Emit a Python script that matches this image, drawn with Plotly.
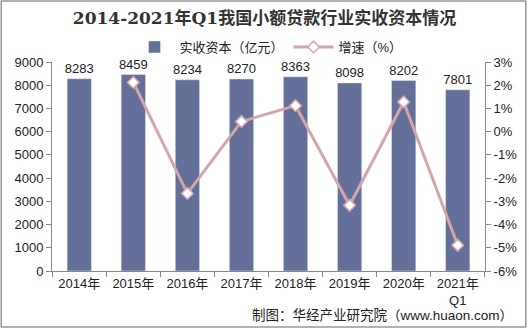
import plotly.graph_objects as go

categories = ["2014年", "2015年", "2016年", "2017年", "2018年", "2019年", "2020年", "2021年<br>Q1"]
capital = [8283, 8459, 8234, 8270, 8363, 8098, 8202, 7801]
growth = [None, 2.12, -2.66, 0.44, 1.12, -3.17, 1.28, -4.89]
left_ticks = [0, 1000, 2000, 3000, 4000, 5000, 6000, 7000, 8000, 9000]
right_ticks = [3, 2, 1, 0, -1, -2, -3, -4, -5, -6]

W, H = 529, 328
ml, mr, mt, mb = 52, 42, 62, 57
pw, ph = W - ml - mr, H - mt - mb

font_sans = "Liberation Sans, Arial, Noto Sans CJK SC, sans-serif"

fig = go.Figure()
fig.add_trace(go.Bar(
    x=categories, y=capital, name="实收资本（亿元）",
    marker=dict(color="#65709A"), width=0.45,
    text=[str(v) for v in capital], textposition="outside", constraintext="none",
    textfont=dict(size=13, color="#222222", family=font_sans),
    cliponaxis=False,
))
fig.add_trace(go.Scatter(
    x=categories, y=growth, name="增速（%）", yaxis="y2",
    mode="lines+markers",
    line=dict(color="#D2A6AA", width=3),
    marker=dict(symbol="diamond", size=9, color="white", line=dict(color="#D2A6AA", width=1.5)),
    connectgaps=False,
))

fig.update_layout(
    width=W, height=H,
    margin=dict(l=ml, r=mr, t=mt, b=mb),
    paper_bgcolor="white", plot_bgcolor="white",
    font=dict(family=font_sans, size=13, color="#222222"),
    title=dict(
        text="<b>2014-2021年Q1我国小额贷款行业实收资本情况</b>",
        x=0.5, xanchor="center", y=1 - 18 / H, yanchor="middle",
        font=dict(family="DejaVu Serif, Noto Sans CJK SC, serif", size=17, color="#333333"),
    ),
    legend=dict(
        orientation="h", x=0.5, xanchor="center", y=1 + 15 / ph, yanchor="middle",
        font=dict(size=13, color="#222222"), itemwidth=40, tracegroupgap=0,
        bgcolor="rgba(0,0,0,0)",
    ),
    xaxis=dict(
        type="category", showline=True, linecolor="#888888", linewidth=1,
        ticks="outside", tickson="boundaries", ticklen=5, tickcolor="#888888",
        tickfont=dict(size=13, color="#222222"), showgrid=False,
    ),
    yaxis=dict(
        range=[0, 9000], tickvals=left_ticks, showline=True, linecolor="#888888",
        ticks="outside", ticklen=5, tickcolor="#888888", showgrid=False, zeroline=False,
        tickfont=dict(size=13, color="#222222"),
    ),
    yaxis2=dict(
        overlaying="y", side="right", range=[-6, 3], tickvals=right_ticks,
        ticktext=[f"{v}%" for v in right_ticks], showline=True, linecolor="#888888",
        ticks="outside", ticklen=5, tickcolor="#888888", showgrid=False, zeroline=False,
        tickfont=dict(size=13, color="#222222"),
    ),
    shapes=[dict(
        type="rect", xref="paper", yref="paper",
        x0=(-ml + 1) / pw, x1=1 + (mr - 1) / pw, y0=(-mb + 1) / ph, y1=1 + (mt - 1) / ph,
        line=dict(color="#999999", width=1.5), fillcolor="rgba(0,0,0,0)", layer="below",
    )],
    annotations=[dict(
        text="制图：华经产业研究院（www.huaon.com）", xref="paper", yref="paper",
        x=1 + 30 / pw, xanchor="right", y=-(315 - mt - ph) / ph, yanchor="middle",
        showarrow=False, font=dict(size=13.5, color="#222222"),
    )],
)

fig.write_html("out.html")
